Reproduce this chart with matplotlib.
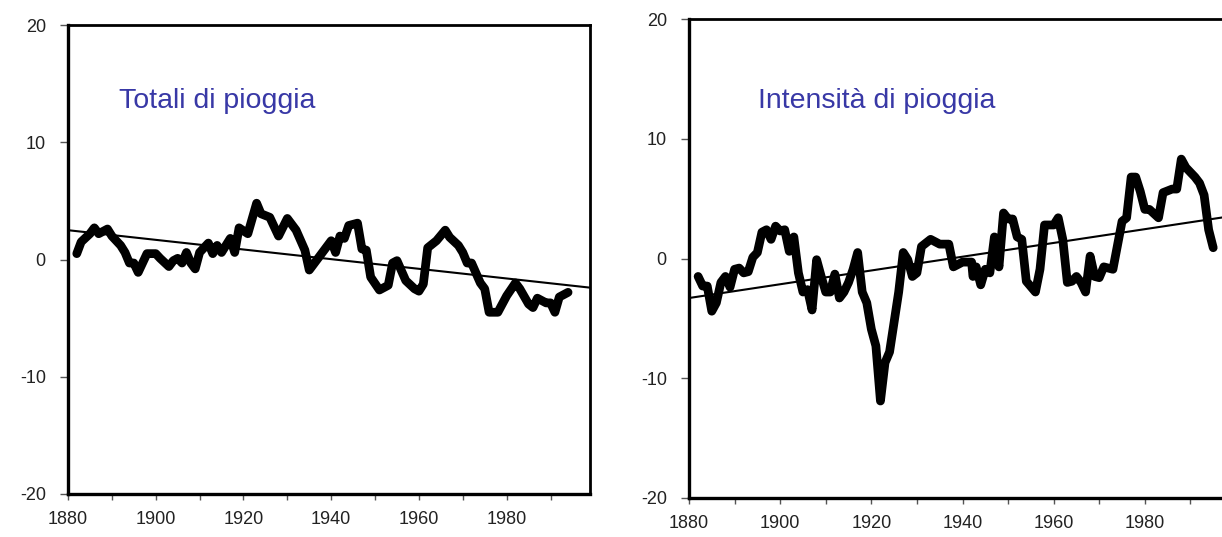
import matplotlib
matplotlib.use("Agg")
import matplotlib.pyplot as plt

plt.rcParams['font.family'] = ['Liberation Sans', 'DejaVu Sans']
plt.rcParams['axes.unicode_minus'] = False

# =====================================================
# DATI - Totali di pioggia
# =====================================================
anni_totali = [1882, 1883, 1885, 1886, 1887, 1889, 1890, 1892, 1893, 1894,
               1895, 1896, 1897, 1898, 1900, 1901, 1903, 1904, 1905, 1906,
               1907, 1908, 1909, 1910, 1912, 1913, 1914, 1915, 1917, 1918,
               1919, 1921, 1923, 1924, 1926, 1928, 1930, 1932, 1934, 1935,
               1937, 1938, 1940, 1941, 1942, 1943, 1944, 1946, 1947, 1948,
               1949, 1951, 1953, 1954, 1955, 1957, 1959, 1960, 1961, 1962,
               1964, 1966, 1967, 1969, 1970, 1971, 1972, 1974, 1975, 1976,
               1978, 1980, 1982, 1983, 1985, 1986, 1987, 1989, 1990, 1991,
               1992, 1994]
valori_totali = [0.5, 1.5, 2.2, 2.7, 2.2, 2.6, 2.0, 1.2, 0.6, -0.3,
                 -0.3, -1.1, -0.3, 0.5, 0.5, 0.1, -0.6, -0.1, 0.1, -0.3,
                 0.6, -0.3, -0.8, 0.6, 1.4, 0.5, 1.2, 0.6, 1.8, 0.6,
                 2.7, 2.2, 4.8, 3.9, 3.6, 2.0, 3.5, 2.5, 0.8, -0.9,
                 0.1, 0.6, 1.6, 0.6, 2.0, 1.8, 2.9, 3.1, 0.9, 0.8,
                 -1.5, -2.6, -2.2, -0.3, -0.1, -1.8, -2.5, -2.7, -2.1, 1.0,
                 1.6, 2.5, 1.9, 1.2, 0.6, -0.3, -0.3, -2.0, -2.5, -4.5,
                 -4.5, -3.1, -2.0, -2.5, -3.8, -4.1, -3.3, -3.7, -3.7, -4.5,
                 -3.2, -2.8]
trend_totali = [2.5, -2.4]      # valori della retta a 1880 e 1999
anni_trend_totali = [1880, 1999]

# =====================================================
# DATI - Intensita di pioggia
# =====================================================
anni_intensita = [1882, 1883, 1884, 1885, 1886, 1887, 1888, 1889, 1890, 1891,
                  1892, 1893, 1894, 1895, 1896, 1897, 1898, 1899, 1900, 1901,
                  1902, 1903, 1904, 1905, 1906, 1907, 1908, 1909, 1910, 1911,
                  1912, 1913, 1914, 1915, 1916, 1917, 1918, 1919, 1920, 1921,
                  1922, 1923, 1924, 1925, 1926, 1927, 1928, 1929, 1930, 1931,
                  1933, 1935, 1937, 1938, 1940, 1942, 1942.3, 1943, 1944, 1945,
                  1946, 1947, 1948, 1949, 1950, 1951, 1952, 1953, 1954, 1956,
                  1957, 1958, 1960, 1961, 1962, 1963, 1964, 1965, 1966, 1967,
                  1968, 1969, 1970, 1971, 1973, 1975, 1976, 1977, 1978, 1979,
                  1980, 1981, 1983, 1984, 1986, 1987, 1988, 1989, 1991, 1992,
                  1993, 1994, 1995]
valori_intensita = [-1.5, -2.3, -2.3, -4.4, -3.7, -2.0, -1.5, -2.4, -0.9, -0.8,
                    -1.2, -1.1, 0.1, 0.5, 2.2, 2.4, 1.6, 2.7, 2.3, 2.4,
                    0.6, 1.8, -1.2, -2.8, -2.6, -4.3, -0.1, -1.5, -2.8, -2.8,
                    -1.3, -3.3, -2.8, -2.0, -0.9, 0.5, -2.8, -3.7, -5.9, -7.3,
                    -11.9, -8.7, -7.8, -5.3, -2.8, 0.5, -0.1, -1.5, -1.2, 1.0,
                    1.6, 1.2, 1.2, -0.7, -0.3, -0.3, -1.5, -0.7, -2.2, -0.9,
                    -1.2, 1.8, -0.7, 3.8, 3.3, 3.3, 1.8, 1.6, -1.9, -2.8,
                    -0.9, 2.8, 2.8, 3.4, 1.6, -2.0, -1.9, -1.5, -2.0, -2.8,
                    0.2, -1.5, -1.6, -0.7, -0.9, 3.1, 3.4, 6.8, 6.8, 5.6,
                    4.1, 4.1, 3.4, 5.5, 5.8, 5.8, 8.3, 7.6, 6.8, 6.3,
                    5.3, 2.4, 0.9]
trend_intensita = [-3.3, 3.6]   # valori della retta a 1880 e 2000
anni_trend_intensita = [1880, 2000]

etichette_x = ['1880', '', '1900', '', '1920', '', '1940', '', '1960', '', '1980', '']
tick_x = list(range(1880, 2000, 10))
tick_y = [-20, -10, 0, 10, 20]

titoli = ['Totali di pioggia', 'Intensità di pioggia']

# =====================================================
# FIGURA
# =====================================================
fig = plt.figure(figsize=(12.22, 5.37), dpi=100)

ax1 = fig.add_axes([68 / 1222, 43 / 537, 522 / 1222, 469 / 537])
ax2 = fig.add_axes([689 / 1222, 39 / 537, 547 / 1222, 479 / 537])

pannelli = [
    (ax1, anni_totali, valori_totali, anni_trend_totali, trend_totali, (1880, 1999), (1891.6, 12.9)),
    (ax2, anni_intensita, valori_intensita, anni_trend_intensita, trend_intensita, (1880, 2000), (1895.1, 12.6)),
]

for i, (ax, anni, valori, anni_tr, trend, xlim, pos_titolo) in enumerate(pannelli):
    ax.plot(anni_tr, trend, color='black', lw=1.5, zorder=2)
    ax.plot(anni, valori, color='black', lw=6.3, solid_joinstyle='round',
            solid_capstyle='round', zorder=3)

    ax.set_xlim(*xlim)
    ax.set_ylim(-20, 20)
    ax.set_xticks(tick_x)
    ax.set_xticklabels(etichette_x)
    ax.set_yticks(tick_y)
    ax.set_yticklabels([str(v) for v in tick_y])

    ax.tick_params(axis='x', direction='out', length=4, width=1, pad=8,
                   labelsize=13, colors='#555555', labelcolor='#222222')
    ax.tick_params(axis='y', direction='out', length=6, width=1, pad=10,
                   labelsize=13, colors='#555555', labelcolor='#222222')

    for lato in ['left', 'bottom']:
        ax.spines[lato].set_linewidth(2.4)
    for lato in ['top', 'right']:
        ax.spines[lato].set_linewidth(2.0)

    ax.text(pos_titolo[0], pos_titolo[1], titoli[i], fontsize=20.5,
            color='#3838a6', va='baseline', ha='left')

plt.savefig('out.png', dpi=100)
plt.close()
